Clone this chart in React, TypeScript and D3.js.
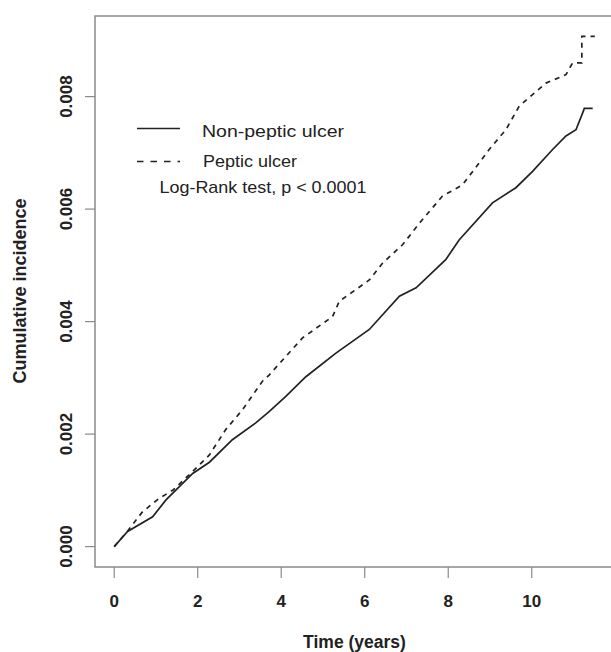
import React from "react";
import * as d3 from "d3";

const nonPepticT = [0, 0.32, 0.92, 1.24, 1.88, 2.28, 2.83, 3.39, 3.71, 4.11, 4.59, 5.31, 6.11, 6.83, 7.23, 7.94, 8.26, 9.06, 9.62, 10.02, 10.5, 10.82, 11.06, 11.22, 11.26, 11.46];
const nonPepticV = [0, 0.00027, 0.00053, 0.00083, 0.0013, 0.0015, 0.0019, 0.0022, 0.0024, 0.00267, 0.00302, 0.00344, 0.00386, 0.00445, 0.0046, 0.0051, 0.00545, 0.00611, 0.00638, 0.00667, 0.00706, 0.0073, 0.00741, 0.00771, 0.00779, 0.00779];

const pepticT = [0, 0.28, 0.68, 1.08, 1.4, 1.8, 2.28, 2.67, 3.07, 3.55, 3.71, 4.51, 5.23, 5.39, 6.11, 6.43, 6.91, 7.31, 7.86, 8.34, 8.74, 8.98, 9.38, 9.7, 10.34, 10.82, 10.98, 11.2, 11.2, 11.51];
const pepticV = [0, 0.00024, 0.00062, 0.00086, 0.001, 0.00128, 0.00163, 0.00208, 0.00243, 0.00294, 0.00305, 0.00371, 0.00409, 0.00436, 0.00474, 0.00504, 0.00537, 0.00575, 0.00623, 0.00643, 0.00682, 0.00706, 0.00741, 0.00783, 0.00824, 0.00839, 0.0086, 0.0086, 0.00907, 0.00907];

const xTicks = [0, 2, 4, 6, 8, 10];
const yTicks = [0, 0.002, 0.004, 0.006, 0.008];
const seriesNames = ["Non-peptic ulcer", "Peptic ulcer"];
const testLabel = "Log-Rank test, p < 0.0001";

const FONT = "'Liberation Sans', Arial, Helvetica, sans-serif";

export default function App() {
  const W = 611, H = 652;
  const left = 95, right = 614, top = 16, bottom = 567;
  const xMax = 11.51, yMax = 0.00907;
  const x = d3.scaleLinear().domain([-0.04 * xMax, xMax * 1.04]).range([left, right]);
  const y = d3.scaleLinear().domain([-0.04 * yMax, yMax * 1.04]).range([bottom, top]);

  const line = d3.line<[number, number]>().x(d => x(d[0])).y(d => y(d[1])).curve(d3.curveLinear);
  const solid = nonPepticT.map((t, i) => [t, nonPepticV[i]] as [number, number]);
  const dashed = pepticT.map((t, i) => [t, pepticV[i]] as [number, number]);

  const axisColor = "#8a8a8a";
  const lineColor = "#222";

  return (
    <svg width={W} height={H} style={{ position: "absolute", left: 0, top: 0, background: "#fff" }} fontFamily={FONT}>
      <rect x={0} y={0} width={W} height={H} fill="#fff" />
      <rect x={left} y={top} width={right - left} height={bottom - top} fill="none" stroke={axisColor} strokeWidth={1.5} />
      {xTicks.map(t => (
        <g key={"x" + t}>
          <line x1={x(t)} x2={x(t)} y1={bottom} y2={bottom + 11} stroke={axisColor} strokeWidth={1.2} />
          <text x={x(t)} y={606.5} textAnchor="middle" fontSize={17} fontWeight="bold" fill="#222">{t}</text>
        </g>
      ))}
      {yTicks.map(v => (
        <g key={"y" + v}>
          <line x1={left - 10} x2={left} y1={y(v)} y2={y(v)} stroke={axisColor} strokeWidth={1.2} />
          <text transform={`translate(71.5,${y(v)}) rotate(-90)`} textAnchor="middle" fontSize={17} fontWeight="bold" fill="#222">{v.toFixed(3)}</text>
        </g>
      ))}
      <text x={(left + right) / 2} y={648} textAnchor="middle" fontSize={17.5} fontWeight="bold" fill="#222">Time (years)</text>
      <text transform={`translate(26,291) rotate(-90)`} textAnchor="middle" fontSize={18} fontWeight="bold" fill="#222">Cumulative incidence</text>

      <path d={line(solid) || ""} fill="none" stroke={lineColor} strokeWidth={1.7} />
      <path d={line(dashed) || ""} fill="none" stroke={lineColor} strokeWidth={1.7} strokeDasharray="5,5" />

      <line x1={137} x2={180} y1={128.5} y2={128.5} stroke={lineColor} strokeWidth={1.5} />
      <line x1={137} x2={180} y1={161.5} y2={161.5} stroke={lineColor} strokeWidth={1.5} strokeDasharray="6.5,7" />
      <text x={202} y={137.3} fontSize={17} fill="#222" textLength={142} lengthAdjust="spacingAndGlyphs">{seriesNames[0]}</text>
      <text x={203} y={167.3} fontSize={17} fill="#222" textLength={94} lengthAdjust="spacingAndGlyphs">{seriesNames[1]}</text>
      <text x={159.5} y={192.7} fontSize={17} fill="#222" textLength={207} lengthAdjust="spacingAndGlyphs">{testLabel}</text>
    </svg>
  );
}
